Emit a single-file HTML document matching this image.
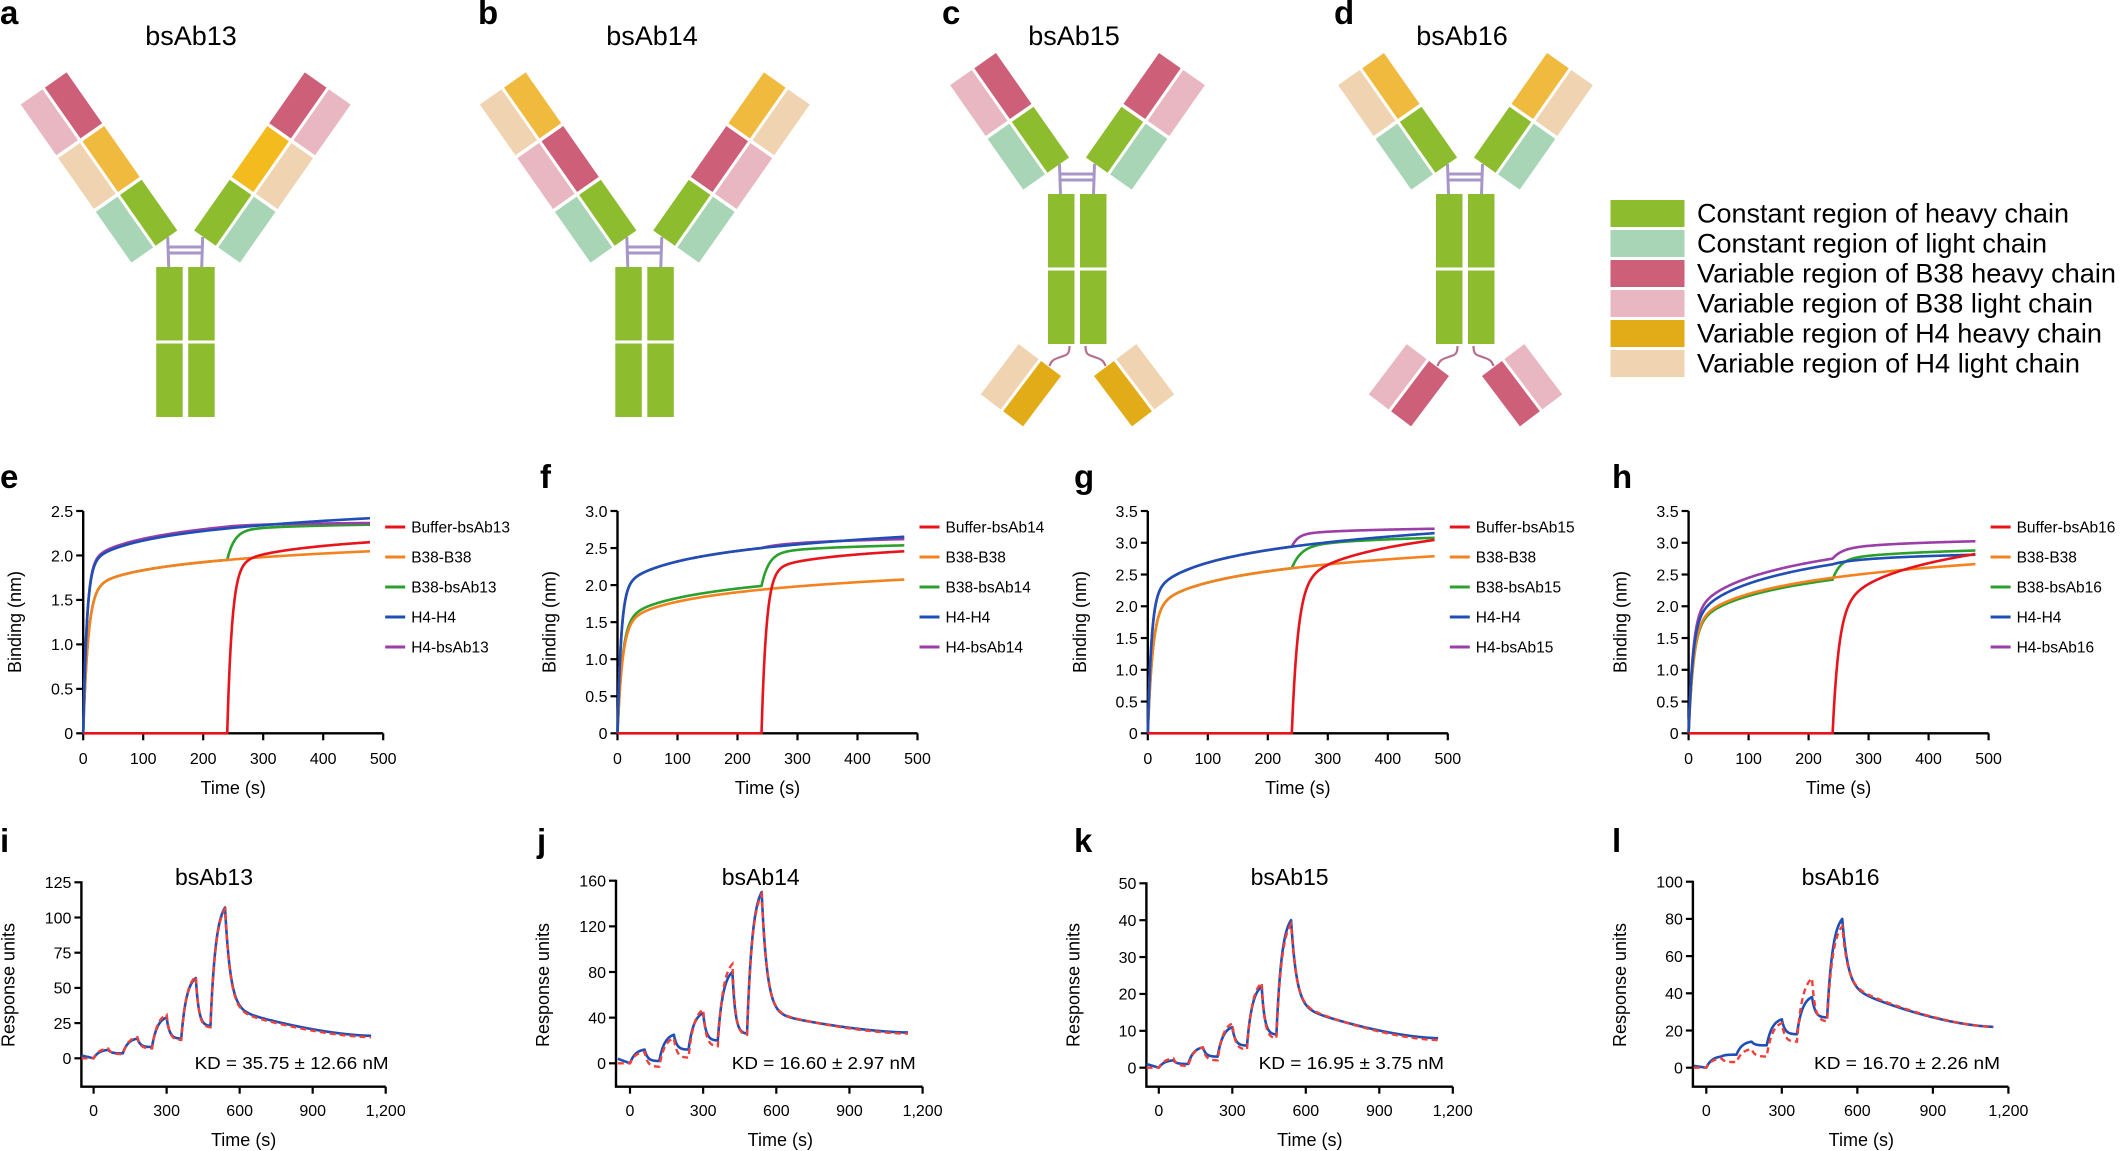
<!DOCTYPE html>
<html><head><meta charset="utf-8">
<style>
html,body{margin:0;padding:0;background:#fff;}
svg{display:block;}
text{font-family:"Liberation Sans",Arial,sans-serif;fill:#000;}
</style></head>
<body>
<svg id="s" xmlns="http://www.w3.org/2000/svg" width="2124" height="1151" viewBox="0 0 2124 1151">
<rect width="2124" height="1151" fill="#fff"/>
<g id="g"></g>
</svg>
<script>
var NS="http://www.w3.org/2000/svg", G=document.getElementById('g'), out="";
function add(s){out+=s;}
function txt(x,y,s,sz,anchor,extra){add('<text x="'+x+'" y="'+y+'" font-size="'+sz+'" text-anchor="'+(anchor||'start')+'" '+(extra||'')+'>'+s+'</text>');}
var C={G:'#8dbd2f',M:'#a7d5b6',R:'#cd5f79',P:'#e9b7c2',O:'#f0ba3f',Y:'#f4bb1f',H:'#e2ab18',T:'#f0d3b0'};
function letter(x,y,s){txt(x,y,s,33,'start','font-weight="bold"');}
letter(0,24,'a');letter(478,24,'b');letter(942,24,'c');letter(1334,24,'d');
letter(0,488,'e');letter(540,488,'f');letter(1074,488,'g');letter(1612,488,'h');
letter(0,852,'i');letter(537,852,'j');letter(1074,852,'k');letter(1612,852,'l');
txt(191,45,'bsAb13',27,'middle');txt(652,45,'bsAb14',27,'middle');txt(1074,45,'bsAb15',27,'middle');txt(1462,45,'bsAb16',27,'middle');
var BL=62,GP=3.5,W=26.5;
function arm(x,y,ang,side,inner,outer){
  add('<g transform="translate('+x+','+y+') rotate('+ang+')">');
  for(var k=0;k<inner.length;k++){
    var y0=-(BL+GP)*k-BL;
    var xi=side<0?-W:0, xo=side<0?-2*W-3:W+3;
    add('<rect x="'+xi+'" y="'+y0+'" width="'+W+'" height="'+BL+'" fill="'+C[inner[k]]+'"/>');
    add('<rect x="'+xo+'" y="'+y0+'" width="'+W+'" height="'+BL+'" fill="'+C[outer[k]]+'"/>');
  }
  add('</g>');
}
function fab(x,y,ang,side,inner,outer){
  add('<g transform="translate('+x+','+y+') rotate('+ang+')">');
  var w=25;
  var xi=side<0?-w:0, xo=side<0?-2*w-3:w+3;
  add('<rect x="'+xi+'" y="0" width="'+w+'" height="63" fill="'+C[inner]+'"/>');
  add('<rect x="'+xo+'" y="0" width="'+w+'" height="63" fill="'+C[outer]+'"/>');
  add('</g>');
}
function ab(cx,sy,Li,Lo,Ri,Ro,bot){
  var pc='#a896c8';
  add('<path d="M'+(cx-18)+','+(sy-30)+' L'+(cx-17)+','+sy+' M'+(cx+17)+','+(sy-30)+' L'+(cx+16)+','+sy+'" stroke="'+pc+'" stroke-width="3" fill="none"/>');
  add('<path d="M'+(cx-17.5)+','+(sy-20)+' H'+(cx+16.5)+' M'+(cx-17.5)+','+(sy-14)+' H'+(cx+16.5)+'" stroke="'+pc+'" stroke-width="3" fill="none"/>');
  arm(cx-8.4,sy-36.5,-35,-1,Li,Lo);
  arm(cx+8.4,sy-36.5,35,1,Ri,Ro);
  add('<rect x="'+(cx-29.5)+'" y="'+sy+'" width="26.5" height="73.5" fill="'+C.G+'"/>');
  add('<rect x="'+(cx-29.5)+'" y="'+(sy+76.5)+'" width="26.5" height="73.5" fill="'+C.G+'"/>');
  add('<rect x="'+(cx+2.5)+'" y="'+sy+'" width="26.5" height="73.5" fill="'+C.G+'"/>');
  add('<rect x="'+(cx+2.5)+'" y="'+(sy+76.5)+'" width="26.5" height="73.5" fill="'+C.G+'"/>');
  if(bot){
    var lc='#b5708f';
    add('<path d="M'+(cx-8)+','+(sy+152)+' c0,9 -3,9 -9,11 s-9,3 -11,9" stroke="'+lc+'" stroke-width="2.2" fill="none"/>');
    add('<path d="M'+(cx+8)+','+(sy+152)+' c0,9 3,9 9,11 s9,3 11,9" stroke="'+lc+'" stroke-width="2.2" fill="none"/>');
    fab(cx-16.5,sy+182,37,-1,bot[0],bot[1]);
    fab(cx+16.5,sy+182,-37,1,bot[0],bot[1]);
  }
}
ab(185.7,267,['G','O','R'],['M','T','P'],['G','Y','R'],['M','T','P']);
ab(644.8,267,['G','R','O'],['M','P','T'],['G','R','O'],['M','P','T']);
ab(1077.5,194,['G','R'],['M','P'],['G','R'],['M','P'],['H','T']);
ab(1465.5,194,['G','O'],['M','T'],['G','O'],['M','T'],['R','P']);
var leg=[['G','Constant region of heavy chain',372],['M','Constant region of light chain',350],['R','Variable region of B38 heavy chain',419],['P','Variable region of B38 light chain',396],['H','Variable region of H4 heavy chain',405],['T','Variable region of H4 light chain',383]];
for(var i=0;i<6;i++){
  var y=200+i*30;
  add('<rect x="1610.5" y="'+y+'" width="74" height="27" fill="'+C[leg[i][0]]+'"/>');
  txt(1697,y+22.5,leg[i][1],27,'start','textLength="'+leg[i][2]+'" lengthAdjust="spacingAndGlyphs"');
}
function f1(p,t){ if(!p) return 0; return p[0]*(1-Math.exp(-t/p[1]))+p[2]*Math.log(1+t/p[3]); }
function bli(ax,ymax,name,series){
  var x500=ax+300, y0=733.3, ytop=511, ppu=(y0-ytop)/ymax;
  var X=function(t){return ax+t*300/500;}, Y=function(v){return y0-v*ppu;};
  add('<path d="M'+ax+','+ytop+' V'+y0+' H'+x500+'" stroke="#000" stroke-width="2.4" fill="none"/>');
  for(var v=0;v<=ymax+1e-6;v+=0.5){
    var yy=Y(v);
    add('<line x1="'+(ax-7)+'" y1="'+yy+'" x2="'+ax+'" y2="'+yy+'" stroke="#000" stroke-width="2.2"/>');
    txt(ax-10,yy+5.8,v==0?'0':v.toFixed(1),16,'end');
  }
  for(var t=0;t<=500;t+=100){
    var xx=X(t);
    add('<line x1="'+xx+'" y1="'+y0+'" x2="'+xx+'" y2="'+(y0+7)+'" stroke="#000" stroke-width="2.2"/>');
    txt(xx,764,''+t,16,'middle');
  }
  txt(ax+150,794,'Time (s)',18,'middle');
  txt(0,0,'Binding (nm)',18,'middle','transform="translate('+(ax-62)+',622) rotate(-90)"');
  var cols=['#e8141b','#f58220','#2ca02c','#1f4fb5','#9a3fa7'];
  var names=['Buffer-'+name,'B38-B38','B38-'+name,'H4-H4','H4-'+name];
  for(var i=0;i<5;i++){
    var ly=527+i*30;
    add('<line x1="'+(x500+2)+'" y1="'+ly+'" x2="'+(x500+22)+'" y2="'+ly+'" stroke="'+cols[i]+'" stroke-width="3"/>');
    txt(x500+28,ly+5.5,names[i],15.5,'start');
  }
  var order=[2,1,4,3,0];
  for(var oi=0;oi<5;oi++){
    var i=order[oi], s=series[i], d='';
    for(var t=0;t<=478;t+=(t<30?0.5:2)){
      var v;
      if(t<=240 || !s[1]) v=f1(s[0],t);
      else { var tt=t-240, p=s[1]; v=f1(s[0],240)+p[0]*(1-Math.exp(-tt/p[1]))+p[2]*Math.log(1+tt/p[3]); }
      d+=(d?'L':'M')+X(t).toFixed(2)+','+Y(v).toFixed(2);
    }
    add('<path d="'+d+'" stroke="'+cols[i]+'" stroke-width="2.6" fill="none" stroke-linejoin="round"/>');
  }
}
bli(83.2,2.5,'bsAb13',[
 [null,[1.85,8,0.117,20]],
 [[1.565,8,0.15,20],null],
 [[1.565,8,0.15,20],[0.32,12,0.03,20]],
 [[1.85,6,0.177,20],null],
 [[1.87,6,0.177,20],[0,1,0.016,20]]
]);
bli(617.5,3.0,'bsAb14',[
 [null,[2.15,8,0.12,20]],
 [[1.4,8,0.21,20],null],
 [[1.45,8,0.21,20],[0.42,12,0.05,20]],
 [[1.9,6,0.234,20],null],
 [[1.9,6,0.234,20],[0,1,0.047,20]]
]);
bli(1147.8,3.5,'bsAb15',[
 [null,[2.2,10,0.33,20]],
 [[1.85,8,0.292,20],null],
 [[1.85,8,0.292,20],[0.3,15,0.07,20]],
 [[2.1,6,0.327,20],null],
 [[2.1,6,0.327,20],[0.18,10,0.04,20]]
]);
bli(1688.6,3.5,'bsAb16',[
 [null,[1.8,10,0.40,20]],
 [[1.6,8,0.331,20],null],
 [[1.57,8,0.331,20],[0.28,12,0.07,20]],
 [[1.65,7,0.394,20],[0,1,0.059,20]],
 [[1.75,7,0.39,20],[0.12,15,0.06,20]]
]);
function sprCurve(P,E,mid,end,pre){
  var pts=[];
  for(var t=-50;t<=1140;t+=2){
    var v;
    if(t<0) v=pre*( -t/50);
    else if(t<540){
      var c=Math.floor(t/120), tc=t-c*120, s=c==0?0:E[c-1], p=P[c];
      if(tc<=60) v=s+(p-s)*(1-Math.exp(-tc/22))/(1-Math.exp(-60/22));
      else { var e=E[c]; v=e+(p-e)*(Math.exp(-(tc-60)/12)-Math.exp(-5))/(1-Math.exp(-5)); }
    } else {
      var tt=t-540;
      v=end+(mid-end)*Math.pow((600-tt)/600,1.6)+(P[4]-mid)*Math.exp(-tt/22);
    }
    pts.push([t,v]);
  }
  return pts;
}
function spr(ax,x0,x1200,y0,ytop,vtop,step,title,tcx,kd,kx0,kx1,B,R){
  var ppv=(y0-ytop)/vtop, xa=1086.7;
  var X=function(t){return x0+t*(x1200-x0)/1200;}, Y=function(v){return y0-v*ppv;};
  add('<path d="M'+ax+','+(ytop-1)+' V'+xa+' H'+x1200+'" stroke="#000" stroke-width="2.4" fill="none"/>');
  for(var v=0;v<=vtop+1e-6;v+=step){
    var yy=Y(v);
    add('<line x1="'+(ax-7)+'" y1="'+yy+'" x2="'+ax+'" y2="'+yy+'" stroke="#000" stroke-width="2.2"/>');
    txt(ax-10,yy+5.8,''+v,16,'end');
  }
  var lab=['0','300','600','900','1,200'];
  for(var k=0;k<5;k++){
    var xx=X(k*300);
    add('<line x1="'+xx+'" y1="'+xa+'" x2="'+xx+'" y2="'+(xa+7)+'" stroke="#000" stroke-width="2.2"/>');
    txt(xx,1116,lab[k],16,'middle');
  }
  txt(X(600)+4,1146,'Time (s)',18,'middle');
  txt(0,0,'Response units',18,'middle','transform="translate('+(ax-67)+',985) rotate(-90)"');
  txt(tcx,885,title,23,'middle');
  txt(kx0,1069,kd,17.5,'start','textLength="'+(kx1-kx0)+'" lengthAdjust="spacingAndGlyphs"');
  function path(pts){var d='';for(var i=0;i<pts.length;i++)d+=(i?'L':'M')+X(pts[i][0]).toFixed(2)+','+Y(pts[i][1]).toFixed(2);return d;}
  add('<path d="'+path(sprCurve.apply(null,B))+'" stroke="#1f4fb5" stroke-width="2.6" fill="none" stroke-linejoin="round"/>');
  add('<path d="'+path(sprCurve.apply(null,R))+'" stroke="#f0403a" stroke-width="2.4" fill="none" stroke-dasharray="6,4"/>');
}
spr(81.4,93.6,385.7,1058.3,882.3,125,25,'bsAb13',214,'KD = 35.75 ± 12.66 nM',194.6,388.6,
 [[6,14,29,57,107],[3.5,8,14,23],36,16,2],[[7,15,31,58,106],[3,7,13,22],35,15,0]);
spr(616,630,922.6,1063.3,880.7,160,40,'bsAb14',760.7,'KD = 16.60 ± 2.97 nM',731.8,915.7,
 [[12,25,44,80,150],[2,12,20,26],45,27,4],[[10,22,47,87,148],[-3,5,15,25],46,26,0]);
spr(1146.4,1158.8,1452.8,1067.7,883.3,50,10,'bsAb15',1289.6,'KD = 16.95 ± 3.75 nM',1258.6,1444,
 [[2,5.5,11,22,40],[1,3,6,9],17,8,1],[[2.5,5.5,12,23,39],[0.5,2,5,8],17.5,7.5,0]);
spr(1692.9,1706.3,2008.4,1067.7,881.7,100,20,'bsAb16',1840.6,'KD = 16.70 ± 2.26 nM',1814,2000,
 [[6,14,26,38,80],[7,12,18,27],44,22,1],[[5,10,24,48,76],[3,6,14,25],45,22,0]);
G.innerHTML=out;
</script>
</body></html>
